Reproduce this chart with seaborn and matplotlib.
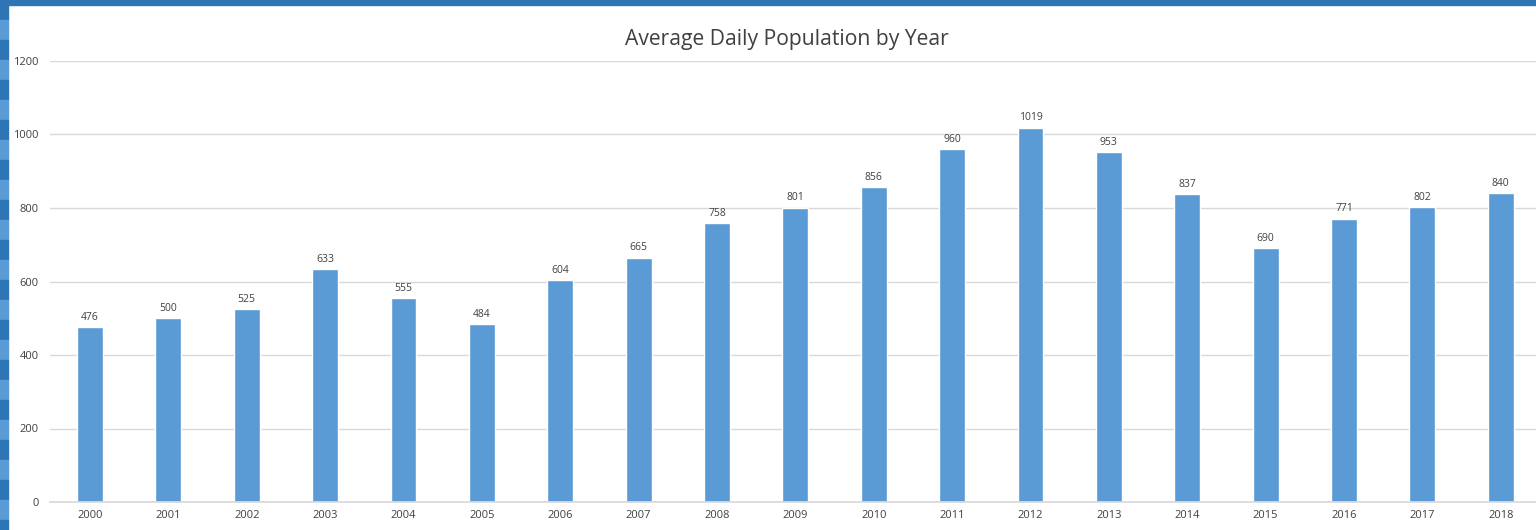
"""Average daily population by year, bar chart."""

import matplotlib.pyplot as plt
import matplotlib.patches as mpatches
import pandas as pd
import seaborn as sns

YEARS = [str(y) for y in range(2000, 2019)]
POPULATION = [476, 500, 525, 633, 555, 484, 604, 665, 758, 801,
              856, 960, 1019, 953, 837, 690, 771, 802, 840]

BAR_COLOR = "#5B9BD5"
GRID_COLOR = "#D9D9D9"
TICK_COLOR = "#404040"
TITLE_COLOR = "#404040"
FRAME_DARK = "#2E75B6"
FRAME_LIGHT = "#5B9BD5"

sns.set_theme(style="white")
plt.rcParams["font.family"] = ["Open Sans", "DejaVu Sans"]

df = pd.DataFrame({"year": YEARS, "population": POPULATION})

fig = plt.figure(figsize=(15.36, 5.3), dpi=100)
ax = fig.add_axes([50 / 1536, 1 - 502 / 530, 1 - 50 / 1536, (502 - 61) / 530])

sns.barplot(data=df, x="year", y="population", color=BAR_COLOR,
            width=0.33, saturation=1, ax=ax)

ax.set_ylim(0, 1200)
ax.set_xlim(-0.51, 18.45)
ax.set_yticks(range(0, 1201, 200))
ax.yaxis.grid(True, color=GRID_COLOR, linewidth=1)
ax.set_axisbelow(True)
for side in ("top", "right", "left"):
    ax.spines[side].set_visible(False)
ax.spines["bottom"].set_color(GRID_COLOR)
ax.set_xlabel("")
ax.set_ylabel("")
ax.tick_params(axis="both", length=0, labelsize=8, colors=TICK_COLOR)
ax.tick_params(axis="y", pad=8)
ax.tick_params(axis="x", pad=6)

ax.bar_label(ax.containers[0], labels=[str(v) for v in POPULATION],
             padding=3, fontsize=7.5, color=TICK_COLOR)

fig.text(0.512, 1 - 39 / 530, "Average Daily Population by Year",
         ha="center", va="center", fontsize=15.2, color=TITLE_COLOR)

# screenshot frame: blue band on top, striped band on the left
fig.patches.append(mpatches.Rectangle((0, 1 - 5 / 530), 1, 5 / 530,
                                      transform=fig.transFigure,
                                      color=FRAME_DARK, zorder=5))
for i in range(0, 530, 20):
    shade = FRAME_DARK if (i // 20) % 2 == 0 else FRAME_LIGHT
    fig.patches.append(mpatches.Rectangle((0, 1 - (i + 20) / 530), 8 / 1536, 20 / 530,
                                          transform=fig.transFigure,
                                          color=shade, zorder=4))

fig.savefig("out.png", dpi=100)
